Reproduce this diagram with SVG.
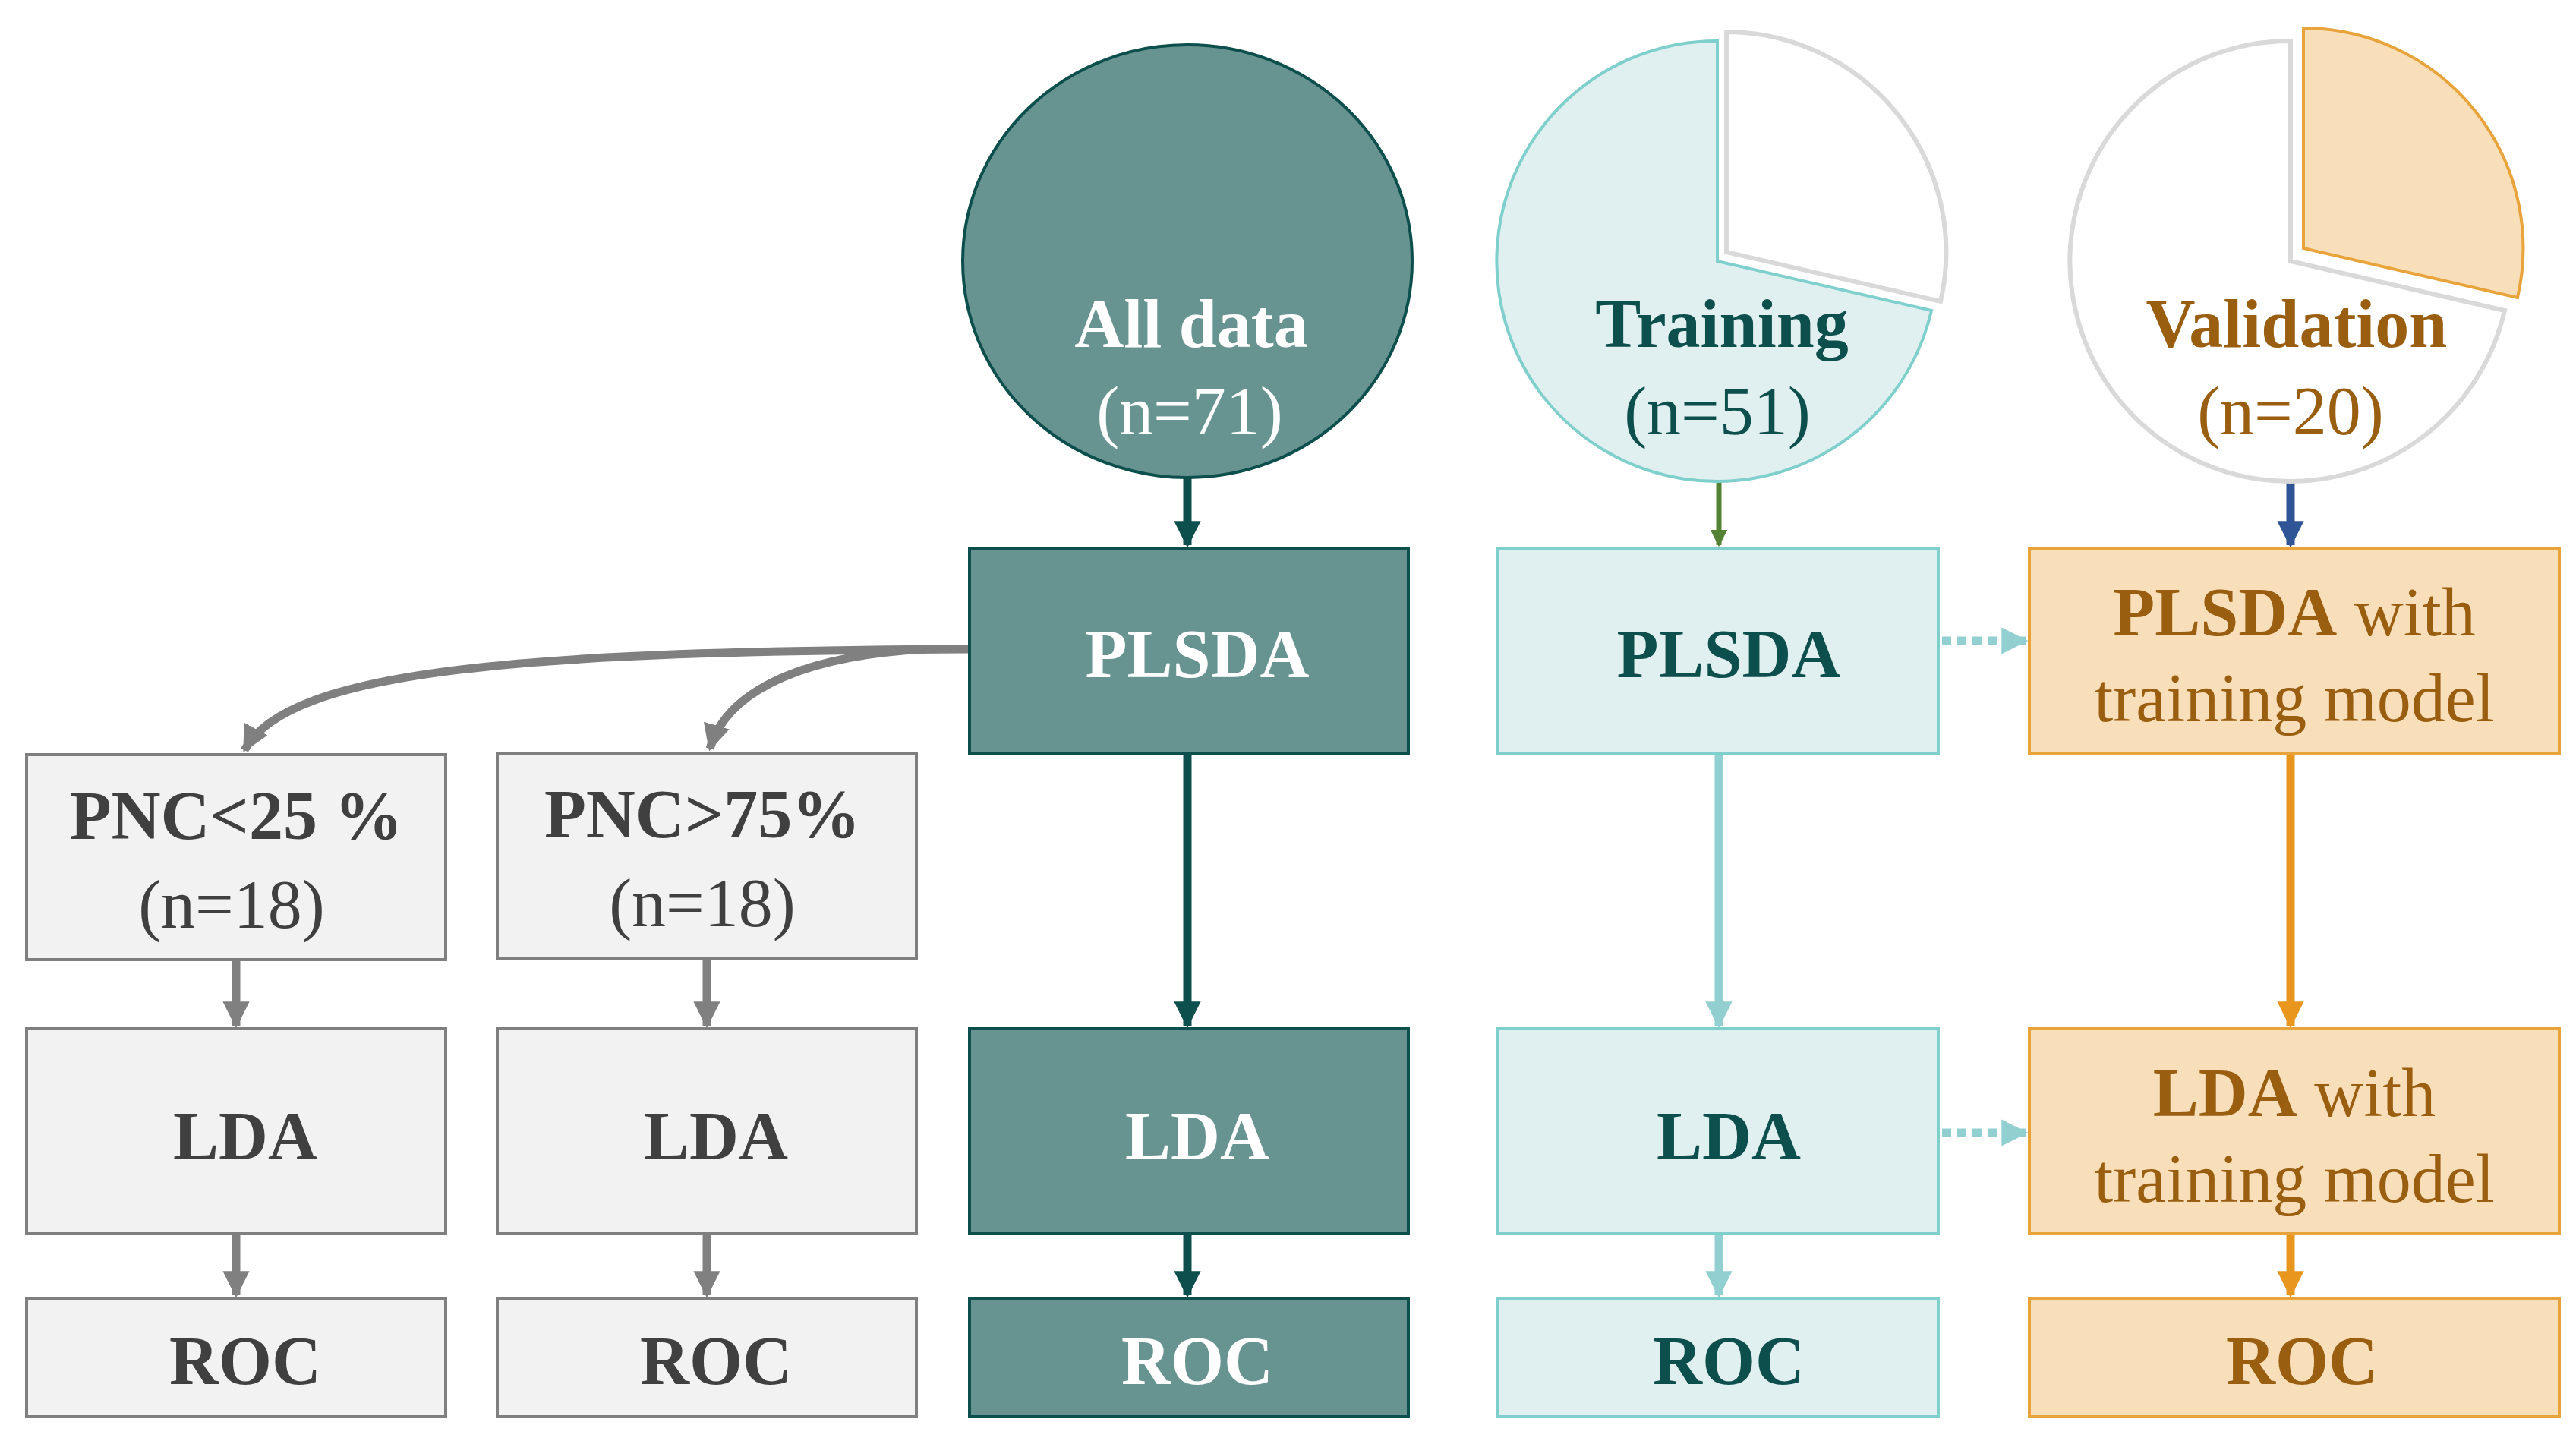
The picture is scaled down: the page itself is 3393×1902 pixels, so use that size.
<svg xmlns="http://www.w3.org/2000/svg" width="3393" height="1902" viewBox="0 0 3393 1902">
<style>
text{font-family:"Liberation Serif","DejaVu Serif",serif;text-anchor:middle;font-size:90px}
.b{font-weight:bold}
.dk{fill:#679491;stroke:#0d4f4c;stroke-width:4}
.lt{fill:#e0efef;stroke:#7fcfcc;stroke-width:4}
.or{fill:#f8deb9;stroke:#e8a33a;stroke-width:4}
.gr{fill:#f2f2f2;stroke:#7f7f7f;stroke-width:4}
.tw{fill:#ffffff}.tt{fill:#0d4f4c}.to{fill:#9a5e10}.tg{fill:#404040}
</style>
<defs>
<marker id="m" viewBox="0 0 10 10" refX="9" refY="5" markerWidth="3" markerHeight="3" orient="auto"><path d="M0,0L10,5L0,10z" fill="context-stroke"/></marker>
<marker id="aD" viewBox="0 0 10 10" refX="9" refY="5" markerWidth="3.2" markerHeight="3.2" orient="auto"><path d="M0,0L10,5L0,10z" fill="#0d4f4c"/></marker>
<marker id="aG" viewBox="0 0 10 10" refX="9" refY="5" markerWidth="3.2" markerHeight="3.2" orient="auto"><path d="M0,0L10,5L0,10z" fill="#548235"/></marker>
<marker id="aB" viewBox="0 0 10 10" refX="9" refY="5" markerWidth="3.2" markerHeight="3.2" orient="auto"><path d="M0,0L10,5L0,10z" fill="#2f5597"/></marker>
<marker id="aL" viewBox="0 0 10 10" refX="9" refY="5" markerWidth="3.2" markerHeight="3.2" orient="auto"><path d="M0,0L10,5L0,10z" fill="#92cfd0"/></marker>
<marker id="aO" viewBox="0 0 10 10" refX="9" refY="5" markerWidth="3.2" markerHeight="3.2" orient="auto"><path d="M0,0L10,5L0,10z" fill="#e8961e"/></marker>
<marker id="aY" viewBox="0 0 10 10" refX="9" refY="5" markerWidth="3.2" markerHeight="3.2" orient="auto"><path d="M0,0L10,5L0,10z" fill="#808080"/></marker>
</defs>
<g id="connectors" fill="none" stroke-width="11">
<path d="M1564,630V718" stroke="#0d4f4c" marker-end="url(#aD)"/>
<path d="M1564,992V1351" stroke="#0d4f4c" marker-end="url(#aD)"/>
<path d="M1564,1625V1706" stroke="#0d4f4c" marker-end="url(#aD)"/>
<path d="M2264,630V718" stroke="#548235" stroke-width="7" marker-end="url(#aG)"/>
<path d="M3017,636V718" stroke="#2f5597" marker-end="url(#aB)"/>
<path d="M2264,992V1351" stroke="#92cfd0" marker-end="url(#aL)"/>
<path d="M2264,1625V1706" stroke="#92cfd0" marker-end="url(#aL)"/>
<path d="M3017,992V1351" stroke="#e8961e" marker-end="url(#aO)"/>
<path d="M3017,1625V1706" stroke="#e8961e" marker-end="url(#aO)"/>
<path d="M2558,844H2668" stroke="#92cfd0" stroke-dasharray="12,8" marker-end="url(#aL)"/>
<path d="M2558,1492H2668" stroke="#92cfd0" stroke-dasharray="12,8" marker-end="url(#aL)"/>
<path d="M1277,855C700,858 380,880 322,988" stroke="#808080" marker-end="url(#aY)"/>
<path d="M1220,855C1080,862 960,900 935,986" stroke="#808080" marker-end="url(#aY)"/>
<path d="M311,1264V1351" stroke="#808080" marker-end="url(#aY)"/>
<path d="M311,1625V1706" stroke="#808080" marker-end="url(#aY)"/>
<path d="M931,1264V1351" stroke="#808080" marker-end="url(#aY)"/>
<path d="M931,1625V1706" stroke="#808080" marker-end="url(#aY)"/>
</g>
<g id="alldata"><ellipse cx="1564" cy="344" rx="296" ry="285" class="dk" stroke-width="6"/><text x="1569" y="457" class="b tw">All data</text><text x="1567" y="572" class="tw">(n=71)</text></g>
<g id="training">
<path d="M2262,344L2544,409A290,290 0 1 1 2262,54Z" class="lt" stroke-width="6"/>
<path d="M2274,332L2274,42A290,290 0 0 1 2556,397Z" fill="#fff" stroke="#d9d9d9" stroke-width="6"/>
<text x="2268" y="457" class="b tt">Training</text><text x="2262" y="572" class="tt">(n=51)</text></g>
<g id="validation">
<path d="M3017,344L3299,409A290,290 0 1 1 3017,54Z" fill="#fff" stroke="#d9d9d9" stroke-width="6"/>
<path d="M3034,327L3034,37A290,290 0 0 1 3316,392Z" class="or" stroke-width="6"/>
<text x="3025" y="457" class="b to">Validation</text><text x="3017" y="572" class="to">(n=20)</text></g>
<g id="plsda1"><rect x="1277" y="722" width="578" height="270" class="dk"/><text x="1577" y="892" class="b tw">PLSDA</text></g>
<g id="plsda2"><rect x="1973" y="722" width="580" height="270" class="lt"/><text x="2277" y="892" class="b tt">PLSDA</text></g>
<g id="plsda3"><rect x="2673" y="722" width="698" height="270" class="or"/><text x="3022" y="837" class="to"><tspan class="b">PLSDA</tspan> with</text><text x="3022" y="950" class="to">training model</text></g>
<g id="pnc25"><rect x="35" y="994" width="552" height="270" class="gr"/><text x="311" y="1105" class="b tg">PNC&lt;25 %</text><text x="305" y="1222" class="tg">(n=18)</text></g>
<g id="pnc75"><rect x="655" y="992" width="552" height="270" class="gr"/><text x="925" y="1103" class="b tg">PNC&gt;75%</text><text x="925" y="1220" class="tg">(n=18)</text></g>
<g id="lda1"><rect x="35" y="1355" width="552" height="270" class="gr" stroke-width="2"/><text x="323" y="1527" class="b tg">LDA</text></g>
<g id="lda2"><rect x="655" y="1355" width="552" height="270" class="gr" stroke-width="2"/><text x="943" y="1527" class="b tg">LDA</text></g>
<g id="lda3"><rect x="1277" y="1355" width="578" height="270" class="dk"/><text x="1577" y="1527" class="b tw">LDA</text></g>
<g id="lda4"><rect x="1973" y="1355" width="580" height="270" class="lt"/><text x="2277" y="1527" class="b tt">LDA</text></g>
<g id="lda5"><rect x="2673" y="1355" width="698" height="270" class="or"/><text x="3022" y="1470" class="to"><tspan class="b">LDA</tspan> with</text><text x="3022" y="1583" class="to">training model</text></g>
<g id="roc1"><rect x="35" y="1710" width="552" height="156" class="gr" stroke-width="2"/><text x="323" y="1823" class="b tg">ROC</text></g>
<g id="roc2"><rect x="655" y="1710" width="552" height="156" class="gr" stroke-width="2"/><text x="943" y="1823" class="b tg">ROC</text></g>
<g id="roc3"><rect x="1277" y="1710" width="578" height="156" class="dk"/><text x="1577" y="1823" class="b tw">ROC</text></g>
<g id="roc4"><rect x="1973" y="1710" width="580" height="156" class="lt"/><text x="2277" y="1823" class="b tt">ROC</text></g>
<g id="roc5"><rect x="2673" y="1710" width="698" height="156" class="or"/><text x="3032" y="1823" class="b to">ROC</text></g>
</svg>
